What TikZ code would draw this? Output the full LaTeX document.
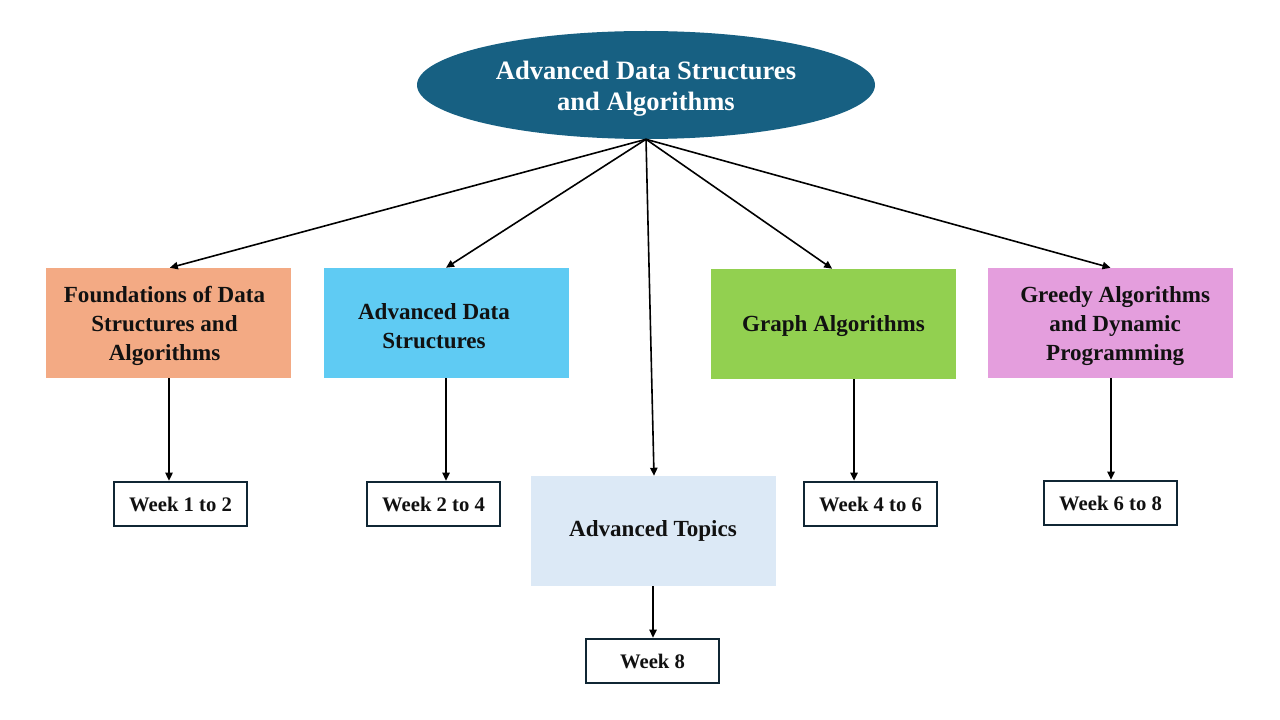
\documentclass[tikz,border=0pt]{standalone}
\usepackage{fontspec}
\setmainfont{Liberation Serif}
\usetikzlibrary{shapes.geometric,arrows.meta}
\definecolor{titlefill}{RGB}{23,96,130}
\definecolor{cSalmon}{RGB}{243,170,132}
\definecolor{cSky}{RGB}{95,203,243}
\definecolor{cGreen}{RGB}{146,208,80}
\definecolor{cPink}{RGB}{228,158,221}
\definecolor{cPale}{RGB}{220,233,246}
\definecolor{cNavy}{RGB}{16,38,52}
\definecolor{cText}{RGB}{17,17,17}
\tikzset{
  topicbox/.style={rectangle, minimum width=183.75pt, minimum height=82.5pt, inner sep=0pt, draw=none},
  boxtext/.style={align=center, font=\bfseries\fontsize{17.3}{21.75}\selectfont, text=cText, inner sep=0pt},
  weekbox/.style={rectangle, draw=cNavy, line width=1.5pt, fill=white, minimum width=100pt, minimum height=33.5pt, inner sep=0pt, font=\bfseries\fontsize{15.5}{18}\selectfont, text=cText},
  conn/.style={draw=black, line width=1.2pt, -{Triangle[length=6pt,width=5.5pt]}}
}
\begin{document}
\begin{tikzpicture}[x=0.75pt,y=-0.75pt]
\useasboundingbox (0,0) rectangle (1280,720);
% title
\node[ellipse, fill=titlefill, minimum width=343.5pt, minimum height=81pt, inner sep=0pt] (root) at (646,85) {};
\node[align=center, text=white, inner sep=0pt, font=\bfseries\fontsize{19.9}{23.25}\selectfont] (rt) at ([yshift=-2.5pt]root.center)
      {Advanced Data Structures\\and Algorithms};
% topic boxes
\node[topicbox, fill=cSalmon] (b1) at (168.5,323) {};
\node[boxtext] (t1) at ([xshift=-3pt,yshift=-2pt]b1.center) {Foundations of Data\\Structures and\\Algorithms};
\node[topicbox, fill=cSky] (b2) at (446,323) {};
\node[boxtext] (t2) at ([xshift=-9pt,yshift=-2pt]b2.center) {Advanced Data\\Structures};
\node[topicbox, fill=cGreen] (b3) at (833.5,324) {};
\node[boxtext] (t3) at ([yshift=-1.5pt]b3.center) {Graph Algorithms};
\node[topicbox, fill=cPink] (b4) at (1110.5,323) {};
\node[boxtext] (t4) at ([xshift=3.5pt,yshift=-2pt]b4.center) {Greedy Algorithms\\and Dynamic\\Programming};
\node[topicbox, fill=cPale] (b5) at (653,531) {};
\node[boxtext] (t5) at (b5.center) {Advanced Topics};
% week boxes
\node[weekbox] (w1) at (180.5,504) {Week 1 to 2};
\node[weekbox] (w2) at (433.5,504) {Week 2 to 4};
\node[weekbox] (w3) at (870.5,504) {Week 4 to 6};
\node[weekbox] (w4) at (1110.5,503) {Week 6 to 8};
\node[weekbox] (w5) at (652.5,661) {Week 8};
% connectors from root
\coordinate (rb) at (root.south);
\draw[conn] (rb) -- ([xshift=1pt]b1.north);
\draw[conn] (rb) -- (b2.north);
\draw[conn] (rb) -- ([xshift=0.75pt]b5.north);
\draw[conn] (rb) -- ([xshift=-1pt]b3.north);
\draw[conn] (rb) -- (b4.north);
% connectors to weeks
\draw[conn] ([xshift=0.375pt]b1.south) -- ([xshift=0.375pt]b1.south |- w1.north);
\draw[conn] (b2.south) -- (b2.south |- w2.north);
\draw[conn] ([xshift=15.4pt]b3.south) -- ([xshift=15.4pt]b3.south |- w3.north);
\draw[conn] ([xshift=0.375pt]b4.south) -- ([xshift=0.375pt]b4.south |- w4.north);
\draw[conn] (b5.south) -- (b5.south |- w5.north);
\end{tikzpicture}
\end{document}
